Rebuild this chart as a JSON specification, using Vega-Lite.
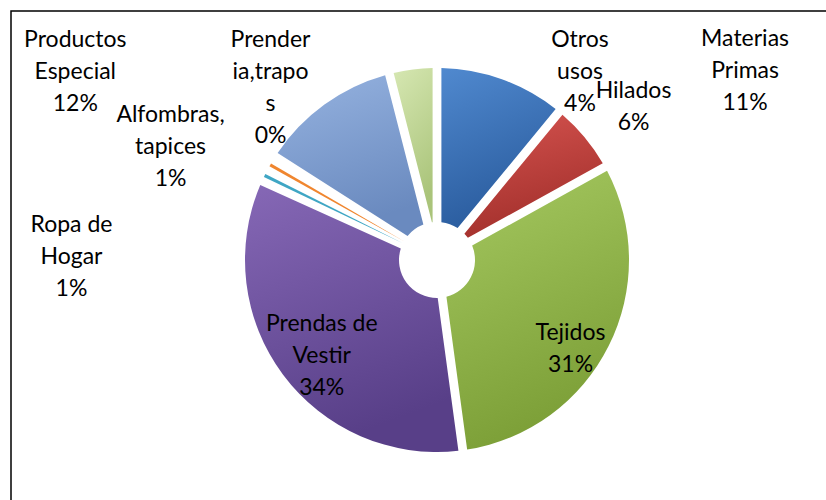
{
  "$schema": "https://vega.github.io/schema/vega-lite/v6.json",
  "width": 852,
  "height": 498,
  "autosize": {"type": "none"},
  "padding": {"left": 11, "top": 11, "right": -37, "bottom": -9},
  "background": "white",
  "config": {
    "view": {"stroke": null},
    "text": {"font": "Lato", "fontSize": 23, "lineHeight": 32, "lineBreak": "\n", "align": "center", "baseline": "middle", "color": "black"}
  },
  "layer": [
    {
      "data": {"values": [{}]},
      "mark": {"type": "rect", "fillOpacity": 0, "stroke": "black", "strokeWidth": 1.5}
    },
    {
      "data": {
        "values": [
          {"cat": "Materias Primas", "label": "Materias\nPrimas\n11%", "value": 11, "order": 1},
          {"cat": "Hilados", "label": "Hilados\n6%", "value": 6, "order": 2},
          {"cat": "Tejidos", "label": "Tejidos\n31%", "value": 31, "order": 3},
          {"cat": "Prendas de Vestir", "label": "Prendas de\nVestir\n34%", "value": 34, "order": 4},
          {"cat": "Ropa de Hogar", "label": "Ropa de\nHogar\n1%", "value": 1, "order": 5},
          {"cat": "Alfombras, tapices", "label": "Alfombras,\ntapices\n1%", "value": 1, "order": 6},
          {"cat": "Prenderia, trapos", "label": "Prender\nia,trapo\ns\n0%", "value": 0.3, "order": 7},
          {"cat": "Productos Especial", "label": "Productos\nEspecial\n12%", "value": 12, "order": 8},
          {"cat": "Otros usos", "label": "Otros\nusos\n4%", "value": 4, "order": 9}
        ]
      },
      "encoding": {
        "theta": {"field": "value", "type": "quantitative", "stack": true},
        "order": {"field": "order", "type": "quantitative", "sort": "ascending"}
      },
      "layer": [
        {
          "mark": {"type": "arc", "radius": 192, "radius2": 38, "padAngle": 0.045},
          "encoding": {
            "fill": {
              "condition": [
                {"test": "datum.cat === 'Materias Primas'", "value": {"gradient": "linear", "x1": 0, "y1": 0, "x2": 0.3, "y2": 1, "stops": [{"offset": 0, "color": "#5089CF"}, {"offset": 1, "color": "#2A5C9E"}]}},
                {"test": "datum.cat === 'Hilados'", "value": {"gradient": "linear", "x1": 0, "y1": 0, "x2": 0.3, "y2": 1, "stops": [{"offset": 0, "color": "#D5534F"}, {"offset": 1, "color": "#A3302C"}]}},
                {"test": "datum.cat === 'Tejidos'", "value": {"gradient": "linear", "x1": 0, "y1": 0, "x2": 0.3, "y2": 1, "stops": [{"offset": 0, "color": "#A6C961"}, {"offset": 1, "color": "#7C9F37"}]}},
                {"test": "datum.cat === 'Prendas de Vestir'", "value": {"gradient": "linear", "x1": 0, "y1": 0, "x2": 0.3, "y2": 1, "stops": [{"offset": 0, "color": "#8668B6"}, {"offset": 1, "color": "#583F88"}]}},
                {"test": "datum.cat === 'Ropa de Hogar'", "value": "#3FA6C4"},
                {"test": "datum.cat === 'Alfombras, tapices'", "value": "#F0862F"},
                {"test": "datum.cat === 'Productos Especial'", "value": {"gradient": "linear", "x1": 0, "y1": 0, "x2": 0.3, "y2": 1, "stops": [{"offset": 0, "color": "#96B3E0"}, {"offset": 1, "color": "#6A8ABF"}]}},
                {"test": "datum.cat === 'Otros usos'", "value": {"gradient": "linear", "x1": 0, "y1": 0, "x2": 0.3, "y2": 1, "stops": [{"offset": 0, "color": "#D6E7B2"}, {"offset": 1, "color": "#AAC47A"}]}}
              ],
              "value": "#2C5A93"
            }
          }
        },
        {
          "mark": {"type": "text", "radius": 240, "dx": 227, "dy": 5},
          "encoding": {"text": {"condition": {"test": "datum.cat === 'Materias Primas'", "field": "label"}, "value": ""}}
        },
        {
          "mark": {"type": "text", "radius": 240, "dx": 12, "dy": -16},
          "encoding": {"text": {"condition": {"test": "datum.cat === 'Hilados'", "field": "label"}, "value": ""}}
        },
        {
          "mark": {"type": "text", "radius": 155, "dx": -5, "dy": 3},
          "encoding": {"text": {"condition": {"test": "datum.cat === 'Tejidos'", "field": "label"}, "value": ""}}
        },
        {
          "mark": {"type": "text", "radius": 150, "dx": 5, "dy": -26},
          "encoding": {"text": {"condition": {"test": "datum.cat === 'Prendas de Vestir'", "field": "label"}, "value": ""}}
        },
        {
          "mark": {"type": "text", "radius": 240, "dx": -150, "dy": 71},
          "encoding": {"text": {"condition": {"test": "datum.cat === 'Ropa de Hogar'", "field": "label"}, "value": ""}}
        },
        {
          "mark": {"type": "text", "radius": 240, "dx": -58, "dy": -26},
          "encoding": {"text": {"condition": {"test": "datum.cat === 'Alfombras, tapices'", "field": "label"}, "value": ""}}
        },
        {
          "mark": {"type": "text", "radius": 240, "dx": 37, "dy": -93},
          "encoding": {"text": {"condition": {"test": "datum.cat === 'Prenderia, trapos'", "field": "label"}, "value": ""}}
        },
        {
          "mark": {"type": "text", "radius": 240, "dx": -221, "dy": -26},
          "encoding": {"text": {"condition": {"test": "datum.cat === 'Productos Especial'", "field": "label"}, "value": ""}}
        },
        {
          "mark": {"type": "text", "radius": 240, "dx": 173, "dy": 18},
          "encoding": {"text": {"condition": {"test": "datum.cat === 'Otros usos'", "field": "label"}, "value": ""}}
        }
      ]
    }
  ]
}
